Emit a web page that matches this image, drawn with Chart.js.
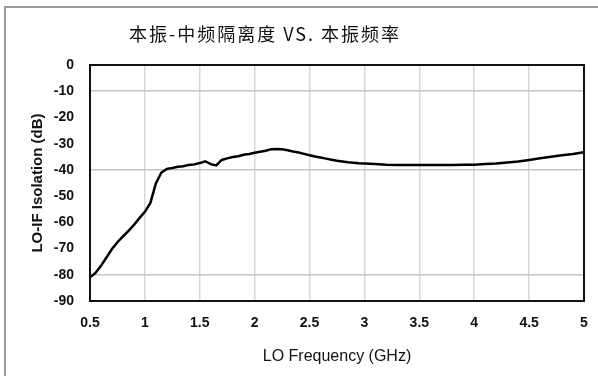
<!DOCTYPE html>
<html>
<head>
<meta charset="utf-8">
<script src="https://cdn.jsdelivr.net/npm/chart.js@4"></script>
<style>
	html, body { margin: 0; padding: 0; background: #fff; }
	#wrap { width: 598px; height: 376px; }
</style>
</head>
<body>
<div id="wrap"><canvas id="grafico" width="598" height="376"></canvas></div>
<script>
const chartTitle = '本振-中频隔离度 VS. 本振频率'
const xTitle = 'LO Frequency (GHz)'
const yTitle = 'LO-IF Isolation (dB)'

const freqs = [0.50, 0.55, 0.60, 0.65, 0.70, 0.75, 0.80, 0.85, 0.90, 0.95,
	1.00, 1.05, 1.10, 1.15, 1.20, 1.25, 1.30, 1.35, 1.40, 1.45,
	1.50, 1.55, 1.60, 1.65, 1.70, 1.75, 1.80, 1.85, 1.90, 1.95,
	2.00, 2.05, 2.10, 2.15, 2.20, 2.25, 2.30, 2.35, 2.40, 2.45,
	2.50, 2.55, 2.60, 2.65, 2.70, 2.75, 2.80, 2.85, 2.90, 2.95,
	3.00, 3.10, 3.20, 3.30, 3.40, 3.50, 3.60, 3.70, 3.80, 3.90,
	4.00, 4.10, 4.20, 4.30, 4.40, 4.50, 4.60, 4.70, 4.80, 4.90, 5.00]
const isolation = [-81.0, -79.3, -76.6, -73.4, -70.2, -67.6, -65.4, -63.3, -61.0, -58.4,
	-56.0, -52.6, -45.2, -41.0, -39.6, -39.3, -38.8, -38.6, -38.1, -37.9,
	-37.4, -36.7, -37.8, -38.3, -36.2, -35.6, -35.1, -34.8, -34.2, -33.9,
	-33.5, -33.1, -32.7, -32.1, -32.0, -32.1, -32.5, -33.0, -33.4, -33.9,
	-34.4, -34.9, -35.3, -35.7, -36.1, -36.5, -36.8, -37.1, -37.3, -37.5,
	-37.6, -37.8, -38.0, -38.1, -38.1, -38.1, -38.1, -38.1, -38.1, -38.0,
	-38.0, -37.8, -37.6, -37.2, -36.8, -36.2, -35.6, -35.0, -34.4, -33.9, -33.3]
const hGridValues = [-10, -40, -80]

const points = freqs.map((f, i) => ({ x: f, y: isolation[i] }))

// moldura externa, borda da área do gráfico e título
const extras = {
	id: 'extras',
	beforeDraw(chart) {
		const ctx = chart.ctx
		ctx.save()
		ctx.fillStyle = '#fff'
		ctx.fillRect(0, 0, chart.width, chart.height)
		ctx.strokeStyle = '#9a9a9a'
		ctx.lineWidth = 2
		ctx.beginPath()
		ctx.moveTo(5, 376)
		ctx.lineTo(5, 7)
		ctx.lineTo(598, 7)
		ctx.stroke()
		ctx.fillStyle = '#111'
		ctx.font = '18px "Noto Sans CJK SC"'
		ctx.letterSpacing = '2px'
		ctx.textAlign = 'center'
		ctx.textBaseline = 'middle'
		ctx.fillText(chartTitle, 265, 34)
		ctx.restore()
	},
	afterDraw(chart) {
		const a = chart.chartArea
		const ctx = chart.ctx
		ctx.save()
		ctx.strokeStyle = '#111'
		ctx.lineWidth = 2
		ctx.strokeRect(a.left, a.top, a.right - a.left, a.bottom - a.top)
		ctx.restore()
	}
}

new Chart(document.getElementById('grafico'), {
	type: 'line',
	data: {
		datasets: [{
			data: points,
			borderColor: '#000',
			borderWidth: 2.5,
			pointRadius: 0,
			tension: 0
		}]
	},
	options: {
		responsive: false,
		animation: false,
		layout: { padding: { top: 65, right: 14, left: 0, bottom: 0 } },
		plugins: { legend: { display: false }, tooltip: { enabled: false } },
		scales: {
			x: {
				type: 'linear',
				min: 0.5,
				max: 5,
				afterFit: s => {
					s.height = 75
					s.paddingLeft = 0
					s.paddingRight = 0
				},
				ticks: {
					stepSize: 0.5,
					padding: 14,
					color: '#111',
					font: { family: 'Liberation Sans', size: 14, weight: 'bold' },
					callback: v => String(v)
				},
				grid: {
					drawTicks: false,
					color: ctx => (ctx.tick && ctx.tick.value > 0.5 && ctx.tick.value < 5) ? '#d8d8d8' : 'rgba(0,0,0,0)',
					lineWidth: 1.5
				},
				border: { display: false },
				title: {
					display: true,
					text: xTitle,
					color: '#111',
					font: { family: 'Liberation Sans', size: 16 },
					padding: { top: 0, bottom: 10 }
				}
			},
			y: {
				min: -90,
				max: 0,
				afterFit: s => { s.width = 90 },
				ticks: {
					stepSize: 10,
					padding: 16,
					color: '#111',
					font: { family: 'Liberation Sans', size: 14, weight: 'bold' }
				},
				grid: {
					drawTicks: false,
					color: ctx => (ctx.tick && hGridValues.includes(ctx.tick.value)) ? '#c4c4c4' : 'rgba(0,0,0,0)',
					lineWidth: 1.5
				},
				border: { display: false },
				title: {
					display: true,
					text: yTitle,
					color: '#111',
					font: { family: 'Liberation Sans', size: 15, weight: 'bold' },
					padding: { top: 29, bottom: 0 }
				}
			}
		}
	},
	plugins: [extras]
})
</script>
</body>
</html>
